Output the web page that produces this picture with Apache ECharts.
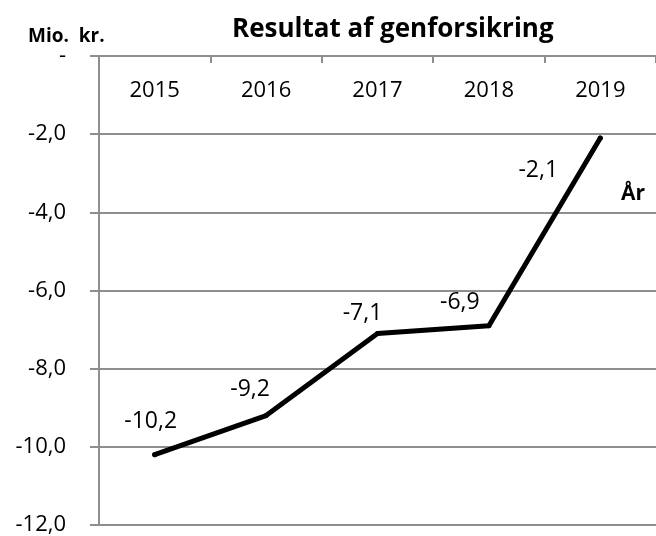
<!DOCTYPE html>
<html>
<head>
<meta charset="utf-8">
<script src="https://cdn.jsdelivr.net/npm/echarts@6/dist/echarts.min.js"></script>
<style>
  html, body { margin: 0; padding: 0; background: #fff; }
  #chart { width: 656px; height: 536px; }
</style>
</head>
<body>
<div id="chart"></div>
<script>
// data
var years = ['2015', '2016', '2017', '2018', '2019'];
var resultat = [-10.2, -9.2, -7.1, -6.9, -2.1];

// label placement (px offsets from the point)
var labelOffsets = [[-4, -33], [-16, -26], [-15, -20], [-29, -23], [-62, 32]];

var font = 'Open Sans';

var seriesData = [];
for (var i = 0; i < resultat.length; i++) {
    seriesData.push({
        value: resultat[i],
        label: { offset: labelOffsets[i] }
    });
}

function fmt(v) {
    if (v === 0) return '-';
    return v.toFixed(1).replace('.', ',');
}

var option = {
    animation: false,
    backgroundColor: '#fff',
    textStyle: { fontFamily: font },
    grid: {
        left: 99,
        right: 0,
        top: 56,
        bottom: 11
    },
    graphic: [
        {
            type: 'text', left: 232, top: 17,
            style: { text: 'Resultat af genforsikring', fontFamily: font, fontWeight: 'bold', fontSize: 26, fill: '#000' }
        },
        {
            type: 'text', left: 28, top: 27,
            style: { text: 'Mio.  kr.', fontFamily: font, fontWeight: 'bold', fontSize: 19, fill: '#000' }
        },
        {
            type: 'text', left: 621, top: 184,
            style: { text: 'År', fontFamily: font, fontWeight: 'bold', fontSize: 21, fill: '#000' }
        }
    ],
    xAxis: {
        type: 'category',
        position: 'top',
        data: years,
        boundaryGap: true,
        axisLine: { show: true, lineStyle: { color: '#8e8e8e', width: 2 } },
        axisTick: { show: true, inside: true, length: 7, lineStyle: { color: '#8e8e8e', width: 2 } },
        axisLabel: { inside: true, margin: 24, color: '#000', fontSize: 22, fontFamily: font },
        splitLine: { show: false }
    },
    yAxis: {
        type: 'value',
        min: -12,
        max: 0,
        interval: 2,
        axisLine: { show: true, lineStyle: { color: '#8e8e8e', width: 2 } },
        axisTick: { show: true, length: 9, lineStyle: { color: '#8e8e8e', width: 2 } },
        axisLabel: { formatter: fmt, margin: 33, color: '#000', fontSize: 22, fontFamily: font },
        splitLine: { show: true, lineStyle: { color: '#8e8e8e', width: 2 } }
    },
    series: [{
        type: 'line',
        data: seriesData,
        symbol: 'circle',
        symbolSize: 5,
        itemStyle: { color: '#000' },
        lineStyle: { color: '#000', width: 5, join: 'round', cap: 'round' },
        label: {
            show: true,
            position: 'inside',
            formatter: function (p) { return fmt(p.value); },
            color: '#000',
            fontSize: 23,
            fontFamily: font
        }
    }]
};

var myChart = echarts.init(document.getElementById('chart'));
myChart.setOption(option);
</script>
</body>
</html>
